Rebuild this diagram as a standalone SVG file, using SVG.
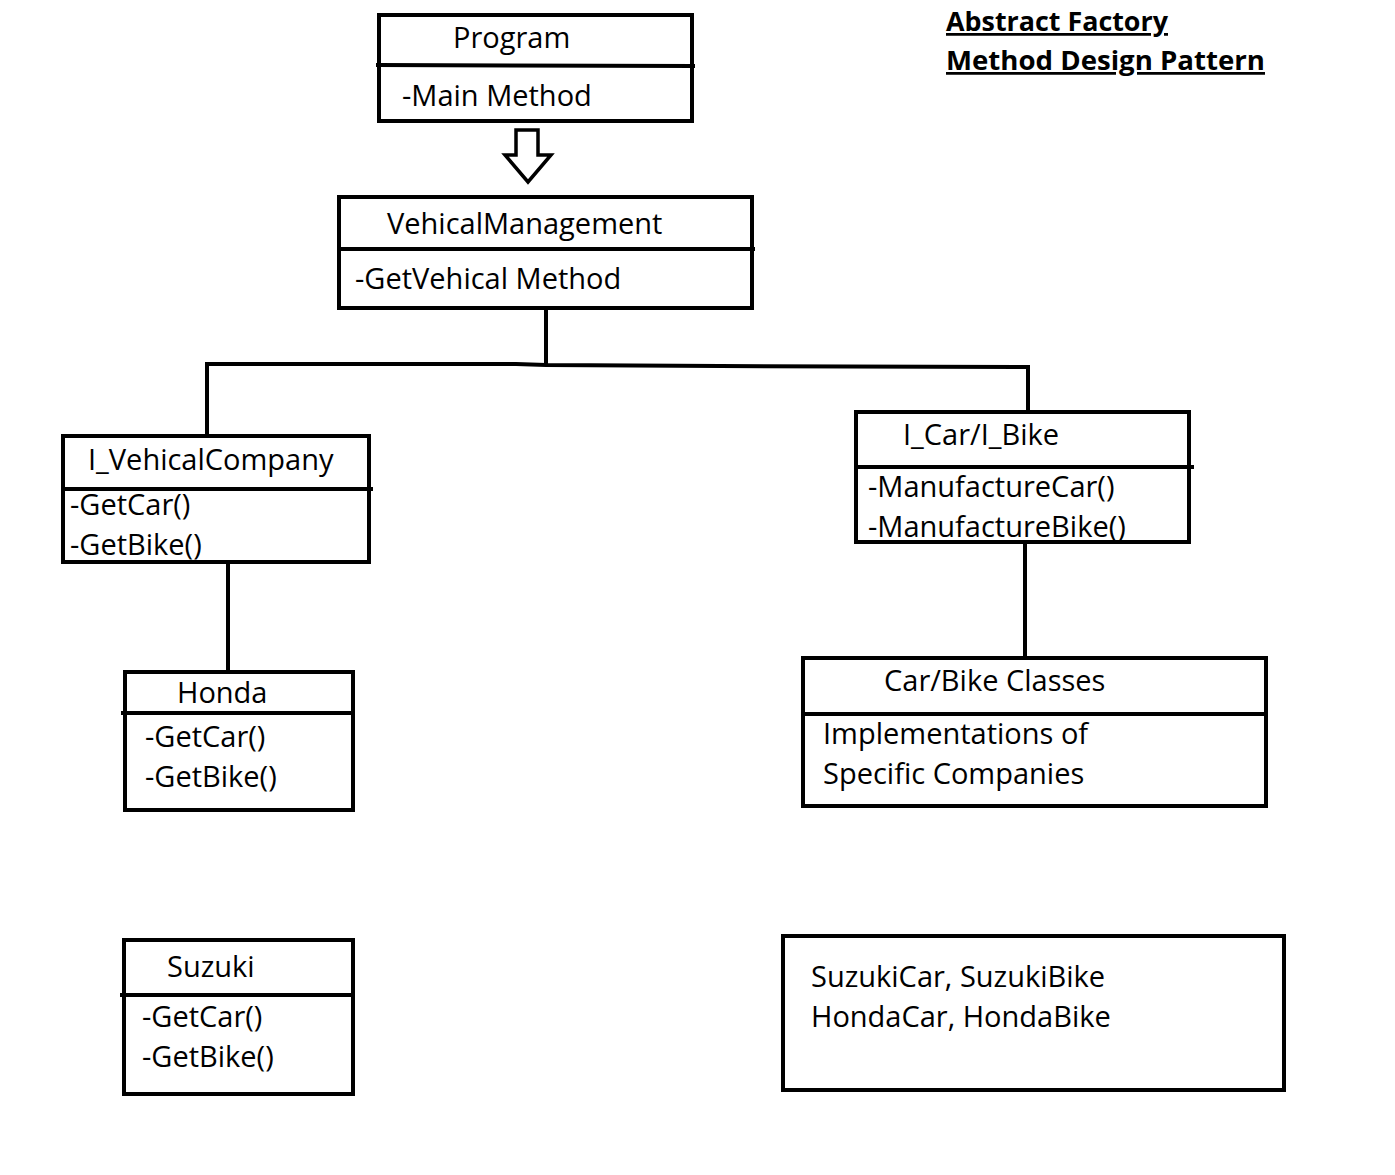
<svg xmlns="http://www.w3.org/2000/svg" width="1395" height="1175" viewBox="0 0 1395 1175">
<style>
.box{fill:#fff;stroke:#000;stroke-width:4}
.ln{fill:none;stroke:#000;stroke-width:4;stroke-linecap:square}
.t{font-family:"Open Sans","Noto Sans","Liberation Sans",sans-serif;font-size:29px;fill:#000}
.title{font-family:"Open Sans","Noto Sans","Liberation Sans",sans-serif;font-size:27.5px;font-weight:bold;fill:#000;text-decoration:underline}
</style>
<rect x="0" y="0" width="1395" height="1175" fill="#fff"/>

<g id="connectors">
<polygon points="516,130 538,130 538,155 551,155 528,182 505,155 516,155" fill="#fff" stroke="#000" stroke-width="3.5" stroke-linejoin="miter"/>
<polyline class="ln" points="546,309 546,364"/>
<polyline class="ln" points="207,434 207,364 516,364 546,365 720,366 1028,367 1028,411"/>
<polyline class="ln" points="228,563 228,670"/>
<polyline class="ln" points="1025,544 1025,657"/>
</g>

<g id="title">
<text class="title" x="946" y="31" textLength="222" lengthAdjust="spacingAndGlyphs">Abstract Factory</text>
<text class="title" x="946" y="70" textLength="319" lengthAdjust="spacingAndGlyphs">Method Design Pattern</text>
</g>

<g id="program">
<rect class="box" x="379" y="15" width="313" height="106"/>
<line class="ln" x1="378" y1="65" x2="693" y2="66"/>
<text class="t" x="453" y="48">Program</text>
<text class="t" x="402" y="106">-Main Method</text>
</g>

<g id="vehicalmanagement">
<rect class="box" x="339" y="197" width="413" height="111"/>
<line class="ln" x1="339" y1="249" x2="753" y2="249"/>
<text class="t" x="387" y="234">VehicalManagement</text>
<text class="t" x="355" y="289">-GetVehical Method</text>
</g>

<g id="ivehicalcompany">
<rect class="box" x="63" y="436" width="306" height="126"/>
<line class="ln" x1="63" y1="489" x2="371" y2="489"/>
<text class="t" x="88" y="470">I_VehicalCompany</text>
<text class="t" x="70" y="515">-GetCar()</text>
<text class="t" x="70" y="555">-GetBike()</text>
</g>

<g id="icar-ibike">
<rect class="box" x="856" y="412" width="333" height="130"/>
<line class="ln" x1="856" y1="467" x2="1192" y2="467"/>
<text class="t" x="903" y="445">I_Car/I_Bike</text>
<text class="t" x="868" y="497">-ManufactureCar()</text>
<text class="t" x="868" y="537">-ManufactureBike()</text>
</g>

<g id="honda">
<rect class="box" x="125" y="672" width="228" height="138"/>
<line class="ln" x1="123" y1="713" x2="353" y2="713"/>
<text class="t" x="177" y="703">Honda</text>
<text class="t" x="145" y="747">-GetCar()</text>
<text class="t" x="145" y="787">-GetBike()</text>
</g>

<g id="carbikeclasses">
<rect class="box" x="803" y="658" width="463" height="148"/>
<line class="ln" x1="803" y1="714" x2="1266" y2="714"/>
<text class="t" x="884" y="691">Car/Bike Classes</text>
<text class="t" x="823" y="744">Implementations of</text>
<text class="t" x="823" y="784">Specific Companies</text>
</g>

<g id="suzuki">
<rect class="box" x="124" y="940" width="229" height="154"/>
<line class="ln" x1="122" y1="995" x2="353" y2="995"/>
<text class="t" x="167" y="977">Suzuki</text>
<text class="t" x="142" y="1027">-GetCar()</text>
<text class="t" x="142" y="1067">-GetBike()</text>
</g>

<g id="implementations">
<rect class="box" x="783" y="936" width="501" height="154"/>
<text class="t" x="811" y="987">SuzukiCar, SuzukiBike</text>
<text class="t" x="811" y="1027">HondaCar, HondaBike</text>
</g>
</svg>
